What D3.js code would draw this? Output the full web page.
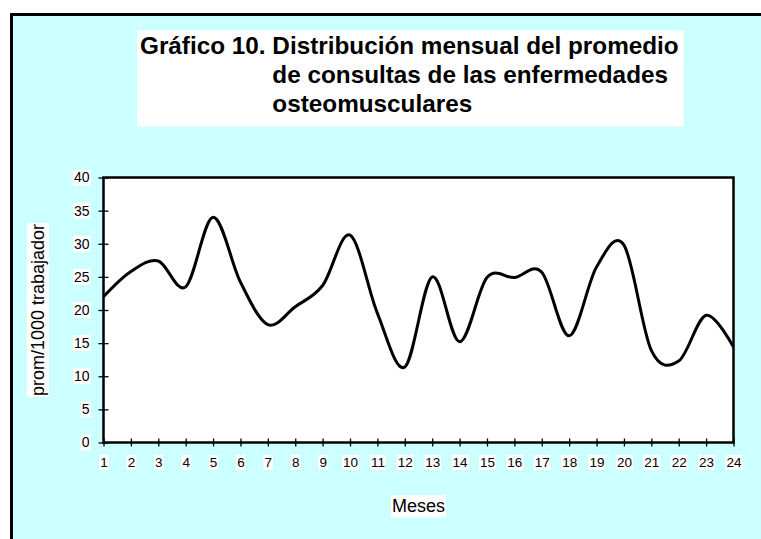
<!doctype html>
<html>
<head>
<meta charset="utf-8">
<style>
  body { margin: 0; background: #fff; }
  svg { display: block; }
  text { font-family: "Liberation Sans", Arial, sans-serif; fill: #000; }
</style>
</head>
<body>
<svg id="chart" width="761" height="539"></svg>
<script src="https://d3js.org/d3.v7.min.js"></script>
<script>
  const meses = [1, 2, 3, 4, 5, 6, 7, 8, 9, 10, 11, 12, 13, 14, 15, 16, 17, 18, 19, 20, 21, 22, 23, 24];
  const promedio = [22.0, 25.8, 27.4, 23.5, 34.0, 24.2, 17.8, 20.5, 23.7, 31.3, 19.5, 11.4,
                    25.0, 15.2, 24.9, 24.9, 25.7, 16.1, 26.5, 29.8, 13.9, 12.3, 19.2, 14.4];
  const yTicks = [0, 5, 10, 15, 20, 25, 30, 35, 40];
  const titleFirst = 'Gráfico 10. ';
  const titleLines = ['Distribución mensual del promedio', 'de consultas de las enfermedades', 'osteomusculares'];
  const yLabel = 'prom/1000 trabajador';
  const xLabel = 'Meses';

  const svg = d3.select('#chart');

  // helper: white box behind a text, like the excel export
  function whiteBg(sel, padX, padY) {
    sel.each(function() {
      const b = this.getBBox();
      d3.select(this.parentNode).insert('rect', () => this)
        .attr('x', b.x - padX).attr('y', b.y - padY)
        .attr('width', b.width + 2 * padX).attr('height', b.height + 2 * padY)
        .attr('transform', this.getAttribute('transform'))
        .attr('fill', '#fff');
    });
  }

  // outer frame
  svg.append('rect')
    .attr('x', 11.5).attr('y', 14.5)
    .attr('width', 800).attr('height', 600)
    .attr('fill', '#ccffff')
    .attr('stroke', '#000')
    .attr('stroke-width', 3);

  // title
  const title = svg.append('g');
  const t1 = title.append('text')
    .attr('x', 140).attr('y', 53.5)
    .style('font-size', '24.3px').style('font-weight', 'bold');
  t1.append('tspan').text(titleFirst);
  t1.append('tspan').text(titleLines[0]);
  const indent = t1.node().getStartPositionOfChar(titleFirst.length).x;
  titleLines.slice(1).forEach((line, i) => {
    title.append('text')
      .attr('x', indent).attr('y', 53.5 + 29 * (i + 1))
      .style('font-size', '24.3px').style('font-weight', 'bold')
      .text(line);
  });
  const tb = title.node().getBBox();
  title.insert('rect', 'text')
    .attr('x', tb.x - 3).attr('y', tb.y - 1)
    .attr('width', tb.width + 8).attr('height', tb.height + 11)
    .attr('fill', '#fff');

  const plot = { left: 103.5, right: 733.5, top: 177.5, bottom: 442.5 };
  const x = d3.scaleLinear().domain([1, 24]).range([plot.left, plot.right]);
  const y = d3.scaleLinear().domain([0, 40]).range([plot.bottom, plot.top]);

  svg.append('rect')
    .attr('x', plot.left).attr('y', plot.top)
    .attr('width', plot.right - plot.left).attr('height', plot.bottom - plot.top)
    .attr('fill', '#fff');

  const line = d3.line()
    .x((d, i) => x(meses[i]))
    .y(d => y(d))
    .curve(d3.curveCardinal.tension(0));

  svg.append('path')
    .datum(promedio)
    .attr('d', line)
    .attr('fill', 'none')
    .attr('stroke', '#000')
    .attr('stroke-width', 3)
    .attr('stroke-linejoin', 'round');

  svg.append('rect')
    .attr('x', plot.left).attr('y', plot.top)
    .attr('width', plot.right - plot.left).attr('height', plot.bottom - plot.top)
    .attr('fill', 'none')
    .attr('stroke', '#000')
    .attr('stroke-width', 2.5);

  // y axis, cross ticks
  const yAxis = svg.append('g')
    .attr('transform', `translate(${plot.left},0)`)
    .call(d3.axisLeft(y).tickValues(yTicks).tickSizeInner(5).tickSizeOuter(0).tickPadding(9));
  yAxis.select('.domain').remove();
  yAxis.attr('font-size', 14).attr('font-family', null);
  yAxis.selectAll('.tick line').attr('x1', 5).attr('stroke', '#000').attr('stroke-width', 1.3);
  whiteBg(yAxis.selectAll('.tick text'), 1, 0);

  // x axis
  const xAxis = svg.append('g')
    .attr('transform', `translate(0,${plot.bottom})`)
    .call(d3.axisBottom(x).tickValues(meses).tickFormat(d3.format('d'))
      .tickSizeInner(4).tickSizeOuter(0).tickPadding(11));
  xAxis.select('.domain').remove();
  xAxis.attr('font-size', 13.5).attr('font-family', null);
  xAxis.selectAll('.tick line').attr('y1', -4).attr('stroke', '#000').attr('stroke-width', 1.3);
  whiteBg(xAxis.selectAll('.tick text'), 1, 0);

  // axis titles
  const yt = svg.append('g');
  yt.append('text')
    .attr('transform', 'translate(37.5,310) rotate(-90)')
    .attr('text-anchor', 'middle')
    .attr('dy', '0.35em')
    .style('font-size', '18px')
    .text(yLabel);
  whiteBg(yt.selectAll('text'), 1, 1);

  const xt = svg.append('g');
  xt.append('text')
    .attr('x', (plot.left + plot.right) / 2)
    .attr('y', 506)
    .attr('text-anchor', 'middle')
    .attr('dy', '0.35em')
    .style('font-size', '18px')
    .text(xLabel);
  whiteBg(xt.selectAll('text'), 1, 1);
</script>
</body>
</html>
